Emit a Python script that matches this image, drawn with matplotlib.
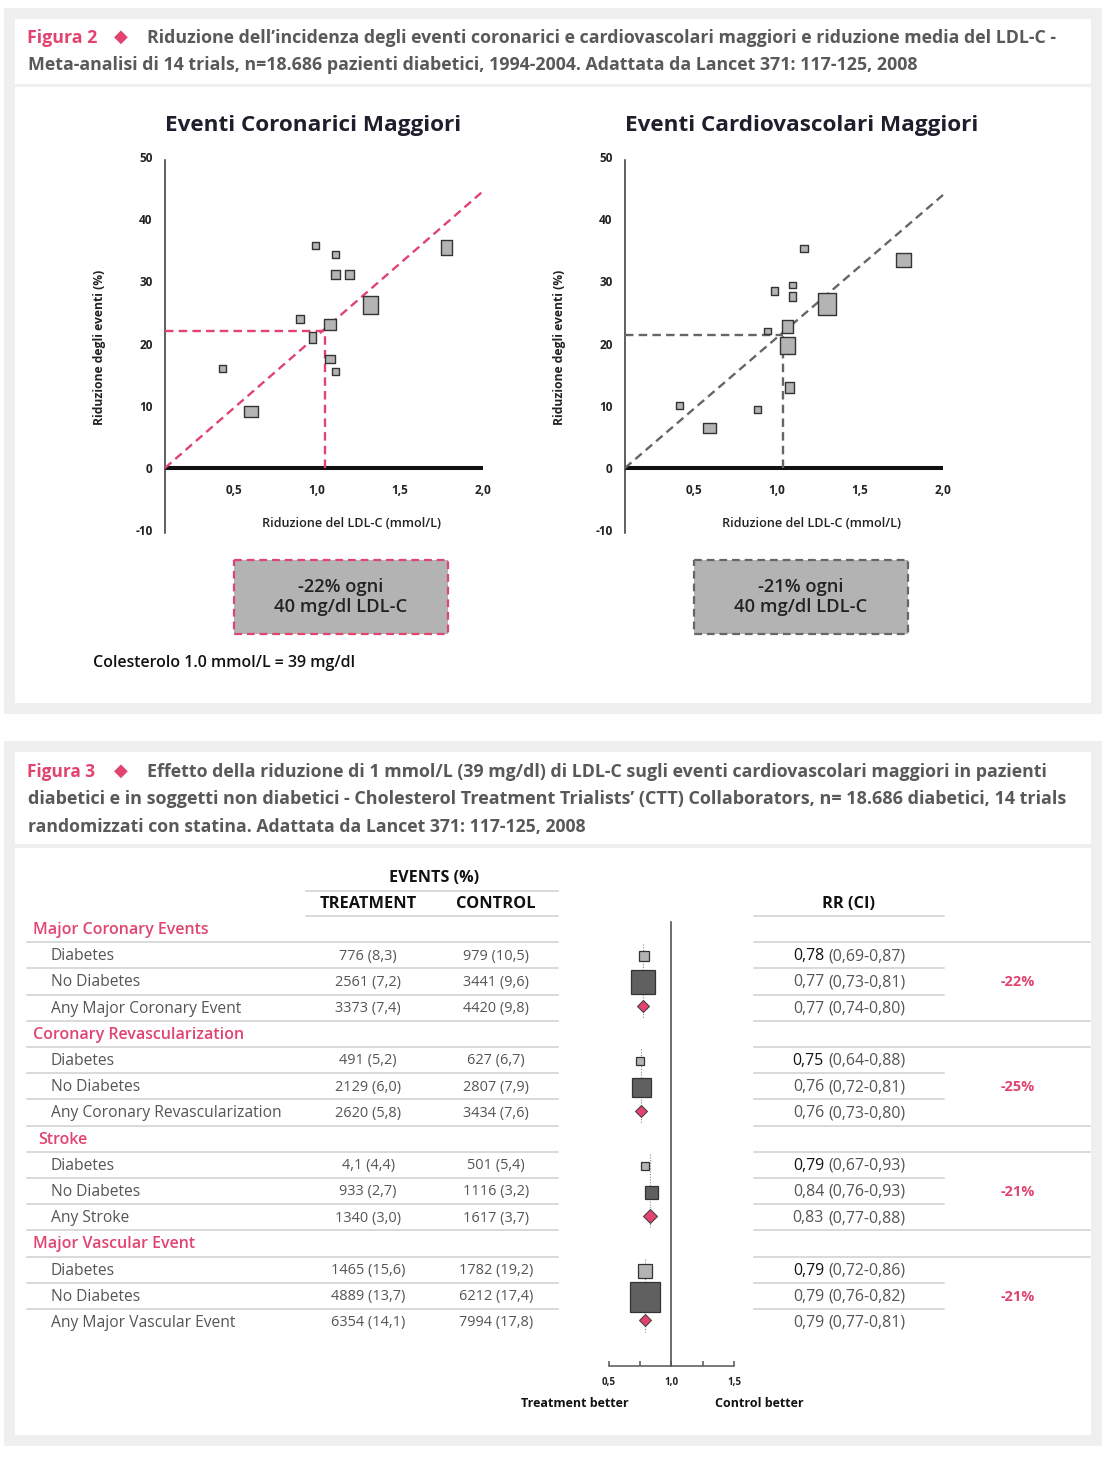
import matplotlib
matplotlib.use("Agg")
import matplotlib.pyplot as plt
import matplotlib.transforms as mtransforms
from matplotlib.patches import Rectangle
from matplotlib.lines import Line2D
from matplotlib.path import Path

# ---------------- DATA ----------------
fig2_label = "Figura 2"
fig2_title_1 = "Riduzione dell’incidenza degli eventi coronarici e cardiovascolari maggiori e riduzione media del LDL-C -"
fig2_title_2 = "Meta-analisi di 14 trials, n=18.686 pazienti diabetici, 1994-2004. Adattata da Lancet 371: 117-125, 2008"
fig3_label = "Figura 3"
fig3_title_1 = "Effetto della riduzione di 1 mmol/L (39 mg/dl) di LDL-C sugli eventi cardiovascolari maggiori in pazienti"
fig3_title_2 = "diabetici e in soggetti non diabetici - Cholesterol Treatment Trialists’ (CTT) Collaborators, n= 18.686 diabetici, 14 trials"
fig3_title_3 = "randomizzati con statina. Adattata da Lancet 371: 117-125, 2008"

scatter_titles = ["Eventi Coronarici Maggiori", "Eventi Cardiovascolari Maggiori"]
y_label = "Riduzione degli eventi (%)"
x_label = "Riduzione del LDL-C (mmol/L)"
y_ticks = [-10, 0, 10, 20, 30, 40, 50]
x_ticks = [0.5, 1.0, 1.5, 2.0]
x_tick_labels = ["0,5", "1,0", "1,5", "2,0"]

# Eventi Coronarici Maggiori (LDL-C reduction, % event reduction, box w/h in px)
cor_x = [0.43, 0.60, 0.90, 0.99, 0.97, 1.08, 1.08, 1.11, 1.11, 1.19, 1.11, 1.32, 1.78]
cor_y = [16.1, 9.2, 24.0, 35.9, 21.0, 23.1, 17.5, 34.4, 31.2, 31.2, 15.6, 26.2, 35.6]
cor_w = [7, 14, 8, 7, 7, 12, 10, 7, 9, 9, 7, 15, 11]
cor_h = [7, 11, 8, 7, 11, 11, 9, 7, 9, 9, 7, 18, 15]
cor_fit_x = [0.084, 2.0]
cor_fit_y = [0.0, 44.5]
cor_ref = (1.048, 22.0)

# Eventi Cardiovascolari Maggiori
cv_x = [0.41, 0.59, 0.88, 0.94, 0.98, 1.09, 1.09, 1.06, 1.06, 1.07, 1.16, 1.30, 1.76]
cv_y = [10.1, 6.5, 9.5, 22.0, 28.5, 29.5, 27.7, 22.8, 19.8, 13.1, 35.3, 26.3, 33.4]
cv_w = [7, 13, 7, 7, 7, 7, 7, 11, 15, 9, 8, 19, 15]
cv_h = [7, 10, 7, 6, 8, 6, 9, 13, 17, 11, 7, 23, 14]
cv_fit_x = [0.084, 2.0]
cv_fit_y = [0.0, 43.9]
cv_ref = (1.034, 21.4)

box_line1 = ["-22% ogni", "-21% ogni"]
box_line2 = ["40 mg/dl LDL-C", "40 mg/dl LDL-C"]
note = "Colesterolo 1.0 mmol/L = 39 mg/dl"

# Forest plot table
groups = ["Major Coronary Events", "Coronary Revascularization", "Stroke", "Major Vascular Event"]
sub_labels = [["Diabetes", "No Diabetes", "Any Major Coronary Event"],
              ["Diabetes", "No Diabetes", "Any Coronary Revascularization"],
              ["Diabetes", "No Diabetes", "Any Stroke"],
              ["Diabetes", "No Diabetes", "Any Major Vascular Event"]]
treatment = [["776 (8,3)", "2561 (7,2)", "3373 (7,4)"],
             ["491 (5,2)", "2129 (6,0)", "2620 (5,8)"],
             ["4,1 (4,4)", "933 (2,7)", "1340 (3,0)"],
             ["1465 (15,6)", "4889 (13,7)", "6354 (14,1)"]]
control = [["979 (10,5)", "3441 (9,6)", "4420 (9,8)"],
           ["627 (6,7)", "2807 (7,9)", "3434 (7,6)"],
           ["501 (5,4)", "1116 (3,2)", "1617 (3,7)"],
           ["1782 (19,2)", "6212 (17,4)", "7994 (17,8)"]]
rr = [[0.78, 0.77, 0.77], [0.75, 0.76, 0.76], [0.79, 0.84, 0.83], [0.79, 0.79, 0.79]]
ci_lo = [[0.69, 0.73, 0.74], [0.64, 0.72, 0.73], [0.67, 0.76, 0.77], [0.72, 0.76, 0.77]]
ci_hi = [[0.87, 0.81, 0.80], [0.88, 0.81, 0.80], [0.93, 0.93, 0.88], [0.86, 0.82, 0.81]]
pct_change = ["-22%", "-25%", "-21%", "-21%"]
# marker sizes (px): diabetes square, no-diabetes square, overall diamond height
sq_diab = [10.5, 8.5, 7.5, 13.5]
sq_nodiab = [23.5, 19, 13, 29.5]
dm_any = [11, 11, 12, 10]
forest_ticks = [0.5, 0.75, 1.0, 1.25, 1.5]
forest_tick_labels = ["0,5", "", "1,0", "", "1,5"]

# ---------------- STYLE ----------------
FAM = ["Open Sans", "DejaVu Sans"]
plt.rcParams["font.family"] = FAM
PINK = "#e0446f"
TGREY = "#58595b"
GREY = "#555555"
DARK = "#1e1e2c"
PANEL = "#efefef"

W, H = 1110, 1458
fig = plt.figure(figsize=(W / 100, H / 100), dpi=100)
fig.patch.set_facecolor("white")
PX = mtransforms.Affine2D().scale(1.0 / W, -1.0 / H).translate(0, 1) + fig.transFigure
renderer = fig.canvas.get_renderer()


def fitsize(s, target, **kw):
    t = fig.text(0, 0, s, fontsize=10, **kw)
    w = t.get_window_extent(renderer=renderer).width
    t.remove()
    return 10.0 * target / w


def ptext(x, y, s, **kw):
    kw.setdefault("va", "center")
    return fig.text(x, y, s, transform=PX, **kw)


def prect(x0, y0, x1, y1, **kw):
    kw.setdefault("zorder", -5)
    fig.add_artist(Rectangle((x0, y0), x1 - x0, y1 - y0, transform=PX, **kw))


def hline(y, x0, x1, color="#d0d0d0", lw=1.1):
    fig.add_artist(Line2D([x0, x1], [y, y], transform=PX, color=color, lw=lw, zorder=1))


def axbox(x0, y0, x1, y1):
    return fig.add_axes([x0 / W, 1 - y1 / H, (x1 - x0) / W, (y1 - y0) / H])


# panels
prect(4, 8, 1102, 714, fc=PANEL, ec="none")
prect(15, 19, 1091, 84, fc="white", ec="none", zorder=-4)
prect(15, 87, 1091, 703, fc="white", ec="none", zorder=-4)
prect(4, 741, 1102, 1446, fc=PANEL, ec="none")
prect(15, 752, 1091, 844, fc="white", ec="none", zorder=-4)
prect(15, 848, 1091, 1435, fc="white", ec="none", zorder=-4)

# ---------------- TITLES ----------------
def fig_title(label, y1, lines, widths, label_w):
    fs_l = fitsize(label, label_w, weight="bold")
    ptext(27, y1, label, fontsize=fs_l, weight="bold", color=PINK)
    ptext(121, y1 - 1, "\u25c6", fontsize=13, color=PINK, ha="center", family="DejaVu Sans")
    xs = [147] + [28] * (len(lines) - 1)
    for k, (s, wpx) in enumerate(zip(lines, widths)):
        fs = fitsize(s, wpx, weight="bold")
        ptext(xs[k], y1 + 27.5 * k, s, fontsize=fs, weight="bold", color=TGREY)


fig_title(fig2_label, 38, [fig2_title_1, fig2_title_2], [915, 892], 70)
fig_title(fig3_label, 772, [fig3_title_1, fig3_title_2, fig3_title_3], [905, 1045, 557], 68)

# ---------------- SCATTER PANELS ----------------
def rect_marker(w, h):
    verts = [(-w / 2, -h / 2), (w / 2, -h / 2), (w / 2, h / 2), (-w / 2, h / 2), (-w / 2, -h / 2)]
    return Path(verts, [Path.MOVETO, Path.LINETO, Path.LINETO, Path.LINETO, Path.CLOSEPOLY])


XMIN, XMAX = (165 - 151) / 166.0, (490 - 151) / 166.0
YMIN, YMAX = (468 - 535) / 6.22, (468 - 157) / 6.22

panels = [
    (165, scatter_titles[0], cor_x, cor_y, cor_w, cor_h, cor_fit_x, cor_fit_y, cor_ref, PINK, 296),
    (625, scatter_titles[1], cv_x, cv_y, cv_w, cv_h, cv_fit_x, cv_fit_y, cv_ref, "#666666", 353),
]
fs_yl = fitsize(y_label, 155, weight="bold")
fs_xl = fitsize(x_label, 179, weight="semibold")
fs_box = fitsize(box_line2[0], 133, weight="semibold")
for k, (x0, title, xs, ys, ws, hs, fx, fy, ref, lc, tw) in enumerate(panels):
    ax = axbox(x0, 157, x0 + 325, 535)
    ax.set_facecolor("none")
    ax.set_xlim(XMIN, XMAX)
    ax.set_ylim(YMIN, YMAX)
    for s in ["top", "right", "bottom"]:
        ax.spines[s].set_visible(False)
    ax.spines["left"].set_color("#333333")
    ax.spines["left"].set_linewidth(1.1)
    ax.spines["left"].set_bounds(-10.45, 49.5)
    ax.set_xticks([])
    ax.set_yticks(y_ticks)
    ax.set_yticklabels([str(v) for v in y_ticks], fontsize=8.5, weight="bold", color="#222222")
    ax.tick_params(axis="y", length=0, pad=9.0)
    for v, lab in zip(x_ticks, x_tick_labels):
        ax.text(v, -3.6, lab, ha="center", va="center", fontsize=8.5, weight="bold", color="#222222")
    ax.plot([XMIN, x_ticks[-1]], [0, 0], color="#111111", lw=2.9, solid_capstyle="butt", zorder=2)
    ds = (0, (3.6, 2.2))
    ax.plot(fx, fy, color=lc, lw=1.7, ls=ds, zorder=3)
    ax.plot([XMIN, ref[0]], [ref[1], ref[1]], color=lc, lw=1.7, ls=ds, zorder=3)
    ax.plot([ref[0], ref[0]], [0, ref[1]], color=lc, lw=1.7, ls=ds, zorder=3)
    for xv, yv, wv, hv in zip(xs, ys, ws, hs):
        ax.plot([xv], [yv], marker=rect_marker(wv, hv), ms=max(wv, hv) * 0.72, mfc="#b4b4b4",
                mec="#333333", mew=1.0, ls="none", zorder=5)
    fs_t = fitsize(title, tw, weight="bold")
    ptext(x0 + (148 if k == 0 else 176.5), 125, title, fontsize=fs_t, weight="bold", color=DARK, ha="center")
    ptext(x0 - 65, 347, y_label, fontsize=fs_yl, weight="bold", color="#222222", ha="center", rotation=90)
    ptext(x0 + 186, 524, x_label, fontsize=fs_xl, weight="semibold", color="#222222", ha="center")
    # summary box
    bx0 = 234 if k == 0 else 694
    prect(bx0, 560, bx0 + 214, 634, fc="#b3b3b3", ec=lc, lw=1.6, ls=(0, (3.5, 2.2)), zorder=2)
    ptext(bx0 + 107, 587, box_line1[k], fontsize=fs_box, weight="semibold", color="#222222", ha="center")
    ptext(bx0 + 107, 607, box_line2[k], fontsize=fs_box, weight="semibold", color="#222222", ha="center")

fs_note = fitsize(note, 264, weight="semibold")
ptext(93, 663, note, fontsize=fs_note, weight="semibold", color="#111111")

# ---------------- FOREST TABLE ----------------
ROW0, PITCH = 930.0, 26.2


def row_y(i):
    return ROW0 + PITCH * i


fs_ev = fitsize("EVENTS (%)", 89, weight="bold")
ptext(434, 878, "EVENTS (%)", fontsize=fs_ev, weight="bold", color="#111111", ha="center")
fs_hd = fitsize("TREATMENT", 96, weight="bold")
ptext(368, 904, "TREATMENT", fontsize=fs_hd, weight="bold", color="#111111", ha="center")
ptext(496, 904, "CONTROL", fontsize=fs_hd, weight="bold", color="#111111", ha="center")
ptext(849, 904, "RR (CI)", fontsize=fs_hd, weight="bold", color="#111111", ha="center")
hline(890.7, 306, 558)
hline(916.5, 306, 558)
hline(916.5, 754, 944)

fs_row = fitsize("Any Coronary Revascularization", 230)
fs_grp = fitsize("Coronary Revascularization", 211, weight="semibold")
fs_num = fs_row * 0.93
fs_rr = fitsize("0,78 (0,69-0,87)", 113)
fs_pct = fitsize("-22%", 34, weight="bold")


def fmt(v):
    return f"{v:.2f}".replace(".", ",")


for g in range(len(groups)):
    r = 4 * g
    ptext(33 if g != 2 else 38, row_y(r), groups[g], fontsize=fs_grp, weight="semibold", color=PINK)
    for j in range(3):
        y = row_y(r + 1 + j)
        ptext(51, y, sub_labels[g][j], fontsize=fs_row, color=GREY)
        ptext(368, y, treatment[g][j], fontsize=fs_num, color=GREY, ha="center")
        ptext(496, y, control[g][j], fontsize=fs_num, color=GREY, ha="center")
        val = fmt(rr[g][j])
        rest = f"({fmt(ci_lo[g][j])}-{fmt(ci_hi[g][j])})"
        t = ptext(849, y, f"{val} {rest}", fontsize=fs_rr, color=GREY, ha="center")
        bb = t.get_window_extent(renderer=renderer)
        t.remove()
        ptext(bb.x0, y, val, fontsize=fs_rr, color="#111111" if j == 0 else GREY, ha="left")
        ptext(bb.x1, y, rest, fontsize=fs_rr, color=GREY, ha="right")
    ptext(1018, row_y(r + 2), pct_change[g], fontsize=fs_pct, weight="bold", color=PINK, ha="center")

for i in range(15):
    y = row_y(i) + 12.2
    hline(y, 27, 558)
    hline(y, 754, 1090 if i % 4 in (0, 3) else 944)

# forest axis
fax = axbox(609, 920, 734, 1366)
fax.set_facecolor("none")
fax.set_xlim(0.5, 1.5)
fax.set_ylim((1366 - ROW0) / PITCH, (920 - ROW0) / PITCH)
for s in ["top", "right", "left"]:
    fax.spines[s].set_visible(False)
fax.spines["bottom"].set_color("#555555")
fax.spines["bottom"].set_linewidth(1.1)
fax.set_yticks([])
fax.set_xticks(forest_ticks)
fax.set_xticklabels(forest_tick_labels, fontsize=7, weight="bold", color="#222222")
fax.tick_params(axis="x", direction="in", length=3.8, width=1.1, color="#555555", pad=8.0)
fax.plot([1, 1], [(922 - ROW0) / PITCH, (1366 - ROW0) / PITCH], color="#555555", lw=1.2, clip_on=False)
for g in range(len(groups)):
    r = 4 * g
    fax.plot([rr[g][2], rr[g][2]], [r + 0.55, r + 3.35], color="#888888", lw=0.8, ls=(0, (1, 1.5)), zorder=2)
    fax.plot([rr[g][0]], [r + 1], marker="s", ms=sq_diab[g] * 0.72, mfc="#b3b3b3", mec="#333333",
             mew=0.9, ls="none", zorder=4)
    fax.plot([rr[g][1]], [r + 2], marker="s", ms=sq_nodiab[g] * 0.72, mfc="#606060", mec="#333333",
             mew=0.9, ls="none", zorder=4)
    fax.plot([rr[g][2]], [r + 2.9], marker="D", ms=dm_any[g] * 0.72 / 1.25, mfc=PINK, mec="#3a3a3a",
             mew=0.7, ls="none", zorder=4)

fs_tb = fitsize("Treatment better", 109, weight="bold")
ptext(575, 1404, "Treatment better", fontsize=fs_tb, weight="bold", color="#111111", ha="center")
ptext(759, 1404, "Control better", fontsize=fs_tb, weight="bold", color="#111111", ha="center")

fig.savefig("out.png", dpi=100, facecolor="white")
